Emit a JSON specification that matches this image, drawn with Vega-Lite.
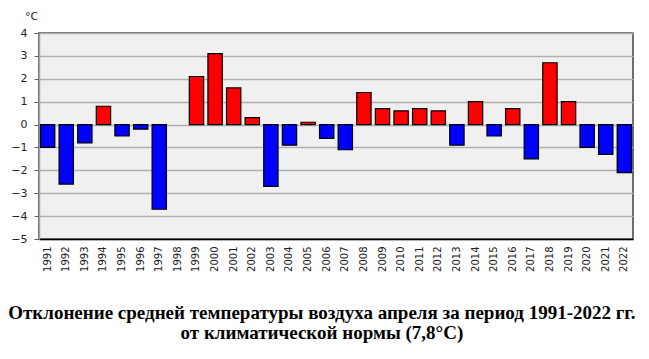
{
  "$schema": "https://vega.github.io/schema/vega-lite/v6.json",
  "width": 594,
  "height": 206,
  "autosize": {"type": "none"},
  "padding": {"left": 39, "top": 33, "right": 16, "bottom": 120},
  "background": "white",
  "title": {
    "text": ["Отклонение средней температуры воздуха апреля за период 1991-2022 гг.", "от климатической нормы (7,8°C)"],
    "orient": "bottom",
    "anchor": "middle",
    "frame": "bounds",
    "font": "Liberation Serif",
    "fontSize": 19,
    "fontWeight": "bold",
    "color": "#000000",
    "lineHeight": 20,
    "offset": 33
  },
  "config": {
    "view": {"fill": "#f0f0f0", "stroke": "#404040", "strokeWidth": 1.5},
    "axis": {"labelFont": "DejaVu Sans", "labelColor": "#222222"}
  },
  "data": {
    "values": [
      {"year": "1991", "dev": -1.0},
      {"year": "1992", "dev": -2.6},
      {"year": "1993", "dev": -0.8},
      {"year": "1994", "dev": 0.8},
      {"year": "1995", "dev": -0.5},
      {"year": "1996", "dev": -0.2},
      {"year": "1997", "dev": -3.7},
      {"year": "1998", "dev": 0.0},
      {"year": "1999", "dev": 2.1},
      {"year": "2000", "dev": 3.1},
      {"year": "2001", "dev": 1.6},
      {"year": "2002", "dev": 0.3},
      {"year": "2003", "dev": -2.7},
      {"year": "2004", "dev": -0.9},
      {"year": "2005", "dev": 0.1},
      {"year": "2006", "dev": -0.6},
      {"year": "2007", "dev": -1.1},
      {"year": "2008", "dev": 1.4},
      {"year": "2009", "dev": 0.7},
      {"year": "2010", "dev": 0.6},
      {"year": "2011", "dev": 0.7},
      {"year": "2012", "dev": 0.6},
      {"year": "2013", "dev": -0.9},
      {"year": "2014", "dev": 1.0},
      {"year": "2015", "dev": -0.5},
      {"year": "2016", "dev": 0.7},
      {"year": "2017", "dev": -1.5},
      {"year": "2018", "dev": 2.7},
      {"year": "2019", "dev": 1.0},
      {"year": "2020", "dev": -1.0},
      {"year": "2021", "dev": -1.3},
      {"year": "2022", "dev": -2.1}
    ]
  },
  "encoding": {
    "x": {
      "field": "year",
      "type": "nominal",
      "scale": {"paddingInner": 0.23, "paddingOuter": 0.08}
    }
  },
  "layer": [
    {
      "mark": {"type": "bar", "stroke": "#000000", "strokeWidth": 1.2},
      "transform": [{"filter": "datum.dev != 0"}],
      "encoding": {
        "x": {
          "field": "year",
          "type": "nominal",
          "axis": {
            "title": null,
            "orient": "bottom",
            "labelAngle": -90,
            "labelFontSize": 10,
            "labelPadding": 7,
            "labelOverlap": false,
            "ticks": false,
            "domainColor": "#000000",
            "domainWidth": 1.5
          }
        },
        "y": {
          "field": "dev",
          "type": "quantitative",
          "scale": {"domain": [-5, 4], "nice": false, "zero": true},
          "axis": {
            "values": [-5, -4, -3, -2, -1, 0, 1, 2, 3, 4],
            "tickCount": 10,
            "labelOverlap": false,
            "format": "d",
            "title": "°C",
            "titleAngle": 0,
            "titleX": -8,
            "titleY": -12,
            "titleAlign": "center",
            "titleBaseline": "bottom",
            "titleFont": "DejaVu Sans",
            "titleFontSize": 11,
            "titleFontWeight": "normal",
            "titleColor": "#222222",
            "labelFontSize": 11,
            "labelPadding": 7,
            "tickSize": 5,
            "tickColor": "#606060",
            "domainColor": "#a0a0a0",
            "domainWidth": 1.5,
            "gridColor": "#b0b0b0",
            "gridWidth": 1.5
          }
        },
        "y2": {"datum": 0},
        "color": {
          "condition": {"test": "datum.dev > 0", "value": "#ff0000"},
          "value": "#0000ff"
        }
      }
    },
    {
      "mark": {"type": "rule", "color": "#a0a0a0", "strokeWidth": 1.5},
      "encoding": {
        "y": {"datum": 0, "type": "quantitative"}
      }
    }
  ]
}
